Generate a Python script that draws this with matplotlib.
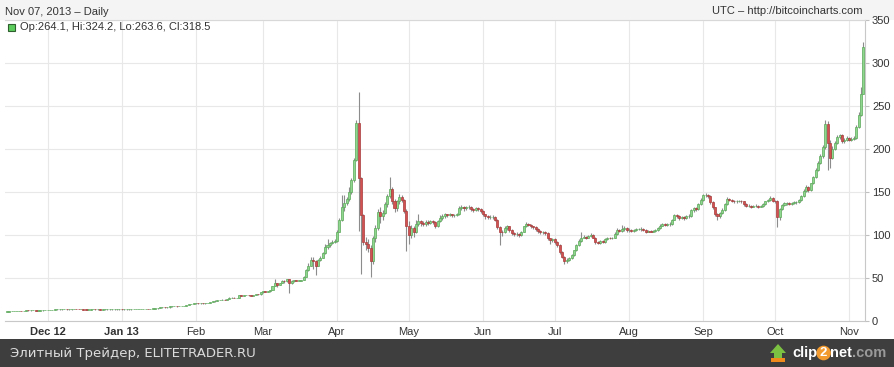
"""
plot.py
Bitcoin daily candles, Nov 2012 - Nov 2013 (bitcoincharts style)
"""

import numpy as np
import pandas as pd
import matplotlib
matplotlib.use("Agg")
import matplotlib.pyplot as plt
import matplotlib.dates as mdates
from matplotlib.patches import Rectangle, Polygon

# -------------------------------------------------
# Data (daily, from 2012-11-14)
# -------------------------------------------------

START_DATE = "2012-11-14"
FIRST_OPEN = 10.9

closes = [
    # Nov 12
    11.0, 11.2, 11.7, 11.8, 11.8, 11.8, 11.7, 11.7, 12.4, 12.3,
    12.4, 12.4, 12.2, 12.2, 12.3, 12.5, 12.6,
    # Dec 12
    12.6, 12.6, 12.6, 13.4, 13.4, 13.4, 13.5, 13.5, 13.4, 13.4,
    13.6, 13.7, 13.6, 13.5, 13.5, 13.3, 13.2, 13.3, 13.5, 13.5,
    13.4, 13.4, 13.3, 13.4, 13.4, 13.4, 13.4, 13.4, 13.4, 13.4,
    13.5,
    # Jan 13
    13.4, 13.4, 13.4, 13.4, 13.4, 13.5, 13.6, 13.8, 13.8, 14.2,
    14.3, 14.2, 14.3, 14.5, 14.6, 14.8, 15.8, 15.8, 15.7, 15.7,
    16.9, 17.4, 17.8, 17.2, 17.3, 17.5, 17.8, 18.7, 19.4, 19.8,
    20.4,
    # Feb
    20.5, 20.4, 20.6, 20.4, 20.6, 21.2, 22.0, 22.7, 23.7, 24.0,
    24.6, 25.0, 24.4, 25.5, 27.0, 27.3, 26.8, 26.9, 29.9, 29.3,
    29.8, 30.2, 29.8, 29.6, 30.4, 31.0, 30.9, 33.4,
    # Mar
    34.5, 34.3, 34.5, 36.2, 40.3, 44.2, 42.0, 44.0, 46.9, 46.0,
    48.4, 44.3, 46.9, 47.0, 46.9, 47.0, 47.4, 51.6, 59.0, 64.3,
    70.9, 69.9, 64.3, 71.5, 73.6, 78.5, 86.2, 88.9, 90.5, 92.2,
    93.0,
    # Apr
    104, 117, 132, 137, 142, 150, 164, 187, 230, 166,
    123, 92, 90, 85, 70, 96, 108, 127, 122, 126,
    136, 145, 154, 140, 131, 139, 144, 141, 128, 110,
    # May
    100, 108, 104, 113, 116, 114, 113, 115, 114, 116,
    115, 110, 116, 120, 122, 124, 123, 124, 123, 123,
    124, 131, 133, 131, 132, 133, 130, 129, 131, 130,
    128,
    # Jun
    124, 122, 121, 121, 121, 118, 109, 104, 103, 108,
    110, 106, 102, 101, 101, 100, 104, 110, 113, 112,
    110, 109, 107, 105, 103, 104, 102, 96, 94, 95,
    # Jul
    92, 88, 80, 75, 70, 71, 73, 77, 82, 88,
    93, 97, 98, 97, 99, 100, 97, 92, 91, 93,
    92, 95, 97, 96, 97, 101, 106, 105, 107, 108,
    106,
    # Aug
    106, 105, 106, 107, 107, 107, 106, 104, 105, 104,
    105, 106, 108, 111, 113, 112, 113, 113, 118, 123,
    122, 120, 121, 120, 122, 122, 129, 131, 130, 136,
    141,
    # Sep
    146, 147, 145, 138, 132, 125, 122, 126, 129, 136,
    142, 141, 140, 139, 139, 140, 139, 136, 134, 134,
    133, 134, 134, 133, 134, 136, 139, 141, 143, 140,
    # Oct
    139, 121, 130, 135, 137, 137, 136, 137, 138, 138,
    141, 145, 151, 156, 152, 160, 167, 176, 184, 192,
    202, 229, 207, 190, 200, 207, 214, 216, 209, 211,
    213,
    # Nov 13
    211, 212, 213, 226, 240, 264.1, 318.5,
]

highs = [
    # Nov 12
    11.2, 11.4, 11.9, 12.0, 11.9, 11.9, 11.9, 11.8, 12.5, 12.5,
    12.5, 12.5, 12.4, 12.3, 12.4, 12.7, 12.8,
    # Dec 12
    12.7, 12.7, 12.8, 13.5, 13.6, 13.5, 13.6, 13.6, 13.5, 13.5,
    13.7, 13.8, 13.7, 13.7, 13.6, 13.5, 13.4, 13.4, 13.6, 13.6,
    13.6, 13.5, 13.4, 13.5, 13.5, 13.5, 13.5, 13.5, 13.5, 13.5,
    13.6,
    # Jan 13
    13.6, 13.5, 13.5, 13.5, 13.5, 13.6, 13.7, 13.9, 14.0, 14.3,
    14.4, 14.4, 14.4, 14.6, 14.7, 14.9, 16.0, 16.0, 15.9, 15.9,
    17.0, 17.6, 18.0, 17.9, 17.5, 17.6, 18.0, 18.9, 19.6, 20.0,
    20.6,
    # Feb
    20.9, 20.7, 20.8, 20.7, 20.8, 21.4, 22.3, 22.9, 23.9, 24.3,
    24.9, 25.3, 25.1, 25.8, 27.4, 27.6, 27.4, 27.2, 30.4, 30.2,
    30.1, 30.6, 30.4, 30.0, 30.7, 31.3, 31.4, 33.8,
    # Mar
    34.9, 34.9, 34.8, 36.5, 40.8, 49.0, 44.3, 44.5, 47.5, 47.4,
    48.5, 48.4, 47.4, 47.5, 47.3, 47.6, 48.0, 52.0, 60.0, 68.0,
    74.9, 75.0, 70.5, 72.0, 76.0, 80.0, 90.0, 95.0, 92.0, 94.0,
    95.0,
    # Apr
    106, 120, 146, 147, 144, 156, 166, 189, 234, 266,
    168, 125, 98, 95, 88, 99, 112, 130, 132, 129,
    138, 148, 168, 156, 142, 141, 148, 147, 142, 130,
    # May
    116, 112, 110, 117, 125, 118, 116, 117, 117, 118,
    117, 116, 118, 123, 124, 126, 125, 126, 125, 125,
    126, 134, 135, 134, 134, 135, 134, 131, 133, 133,
    131,
    # Jun
    129, 125, 123, 123, 123, 122, 119, 110, 106, 110,
    112, 111, 107, 103, 103, 102, 105, 111, 115, 114,
    113, 111, 110, 108, 106, 105, 105, 103, 97, 97,
    # Jul
    96, 93, 89, 81, 76, 73, 75, 78, 83, 89,
    95, 104, 100, 99, 100, 102, 101, 98, 93, 94,
    94, 96, 98, 98, 98, 103, 108, 107, 112, 110,
    109,
    # Aug
    108, 107, 107, 108, 108, 109, 108, 107, 106, 106,
    106, 107, 109, 113, 114, 114, 114, 115, 119, 125,
    124, 123, 122, 122, 123, 124, 130, 133, 132, 137,
    143,
    # Sep
    148, 149, 148, 146, 139, 133, 126, 127, 131, 137,
    144, 143, 142, 141, 141, 141, 141, 140, 137, 136,
    135, 135, 136, 135, 135, 137, 140, 142, 145, 144,
    # Oct
    141, 141, 131, 136, 138, 138, 138, 138, 139, 139,
    142, 146, 153, 158, 157, 161, 169, 178, 186, 194,
    205, 234, 233, 210, 203, 209, 216, 218, 217, 213,
    215,
    # Nov 13
    214, 214, 215, 228, 243, 272, 324.2,
]

lows = [
    # Nov 12
    10.8, 10.9, 11.1, 11.6, 11.7, 11.7, 11.6, 11.5, 11.7, 12.2,
    12.2, 12.3, 12.1, 12.1, 12.1, 12.2, 12.4,
    # Dec 12
    12.5, 12.5, 12.5, 12.6, 13.2, 13.3, 13.3, 13.4, 13.3, 13.3,
    13.3, 13.5, 13.5, 13.4, 13.4, 13.2, 13.0, 13.1, 13.2, 13.4,
    13.3, 13.3, 13.2, 13.2, 13.3, 13.3, 13.3, 13.3, 13.3, 13.3,
    13.3,
    # Jan 13
    13.3, 13.3, 13.3, 13.3, 13.3, 13.4, 13.5, 13.5, 13.7, 13.7,
    14.1, 14.1, 14.1, 14.2, 14.4, 14.5, 14.7, 15.5, 15.5, 15.5,
    15.6, 16.8, 17.2, 16.8, 17.0, 17.2, 17.4, 17.7, 18.6, 19.2,
    19.7,
    # Feb
    20.1, 20.1, 20.3, 20.2, 20.3, 20.5, 21.1, 21.9, 22.6, 23.6,
    23.9, 24.5, 23.9, 24.3, 25.4, 26.8, 26.5, 26.5, 26.8, 28.9,
    29.0, 29.7, 29.5, 29.3, 29.5, 30.2, 30.5, 30.8,
    # Mar
    33.0, 33.5, 33.8, 34.3, 36.1, 40.2, 40.0, 41.9, 43.8, 44.5,
    45.8, 33.0, 43.5, 45.5, 46.0, 46.4, 46.6, 47.2, 51.0, 58.5,
    64.0, 60.0, 53.0, 63.5, 70.0, 73.0, 78.0, 84.0, 86.0, 89.0,
    91.0,
    # Apr
    92, 103, 116, 128, 135, 140, 148, 162, 186, 105,
    55, 88, 82, 80, 51, 66, 92, 106, 114, 118,
    124, 133, 143, 136, 127, 128, 136, 138, 126, 81,
    # May
    90, 96, 98, 102, 110, 111, 110, 111, 112, 113,
    113, 108, 109, 115, 118, 120, 121, 122, 121, 121,
    122, 123, 129, 128, 129, 130, 128, 127, 128, 128,
    126,
    # Jun
    122, 119, 119, 119, 119, 116, 107, 88, 99, 102,
    106, 104, 100, 99, 99, 98, 99, 103, 109, 110,
    108, 107, 105, 102, 101, 101, 100, 94, 90, 92,
    # Jul
    89, 86, 78, 73, 66, 68, 70, 72, 76, 81,
    87, 92, 96, 95, 96, 98, 96, 90, 89, 90,
    91, 91, 94, 95, 95, 96, 100, 103, 104, 105,
    104,
    # Aug
    104, 103, 104, 105, 106, 105, 105, 102, 103, 103,
    103, 104, 105, 107, 110, 110, 111, 111, 112, 117,
    120, 118, 119, 118, 119, 120, 121, 127, 128, 129,
    135,
    # Sep
    140, 144, 143, 136, 130, 122, 118, 120, 125, 128,
    135, 139, 138, 137, 137, 138, 137, 134, 132, 132,
    131, 132, 132, 131, 132, 133, 135, 138, 140, 138,
    # Oct
    137, 109, 118, 129, 134, 135, 135, 135, 136, 136,
    137, 140, 144, 150, 150, 151, 159, 166, 175, 183,
    190, 200, 176, 178, 188, 199, 206, 212, 207, 207,
    209,
    # Nov 13
    209, 209, 210, 212, 225, 238, 263.6,
]

month_ticks = [
    "2012-12-01", "2013-01-01", "2013-02-01", "2013-03-01",
    "2013-04-01", "2013-05-01", "2013-06-01", "2013-07-01",
    "2013-08-01", "2013-09-01", "2013-10-01", "2013-11-01",
]
month_labels = ["Dec 12", "Jan 13", "Feb", "Mar", "Apr", "May",
                "Jun", "Jul", "Aug", "Sep", "Oct", "Nov"]
bold_labels = ["Dec 12", "Jan 13"]

y_ticks = [0, 50, 100, 150, 200, 250, 300, 350]

HEADER_LEFT = "Nov 07, 2013 \u2013 Daily"
HEADER_RIGHT = "UTC \u2013 http://bitcoincharts.com"
LEGEND_TEXT = "Op:264.1, Hi:324.2, Lo:263.6, Cl:318.5"
BANNER_TEXT = "Элитный Трейдер, ELITETRADER.RU"

# -------------------------------------------------
# Prepare
# -------------------------------------------------

plt.rcParams["font.family"] = ["Liberation Sans", "DejaVu Sans"]

dates = pd.date_range(START_DATE, periods=len(closes), freq="D")
x = mdates.date2num(dates)

c = np.array(closes, dtype=float)
o = np.array([FIRST_OPEN] + closes[:-1], dtype=float)
h = np.array(highs, dtype=float)
l = np.array(lows, dtype=float)

up = c >= o
body_bottom = np.minimum(o, c)
body_height = np.maximum(np.abs(c - o), 0.3)

W, H = 895, 367


def px(xp, yp):
    return (xp / W, 1 - yp / H)


# -------------------------------------------------
# Figure
# -------------------------------------------------

fig = plt.figure(figsize=(W / 100, H / 100), dpi=100)
fig.patch.set_facecolor("white")

# header band and bottom banner
fig.add_artist(Rectangle(px(0, 20), 1, 20 / H, transform=fig.transFigure,
                         facecolor="#f4f4f4", edgecolor="none", zorder=0))
fig.add_artist(Rectangle((0, 0), 1, 28 / H, transform=fig.transFigure,
                         facecolor="#3e3e3e", edgecolor="none", zorder=0))

ax = fig.add_axes([5 / W, 1 - 321 / H, 860 / W, 301 / H])

# -------------------------------------------------
# Candles
# -------------------------------------------------

ax.vlines(x, l, h, color="#8c8c8c", linewidth=0.8, zorder=2)

ax.bar(x[up], body_height[up], bottom=body_bottom[up], width=0.85,
       color="#8fd68f", edgecolor="#5aa85a", linewidth=0.5, zorder=3)
ax.bar(x[~up], body_height[~up], bottom=body_bottom[~up], width=0.85,
       color="#d25252", edgecolor="#a83a3a", linewidth=0.5, zorder=3)

# -------------------------------------------------
# Axes styling
# -------------------------------------------------

ax.set_xlim(x[0] - 0.8, x[-1] + 0.65)
ax.set_ylim(0, 350)

ax.yaxis.tick_right()
ax.set_yticks(y_ticks)
ax.tick_params(axis="y", length=3, width=0.8, color="#c0c0c0",
               labelsize=8, labelcolor="#333333", pad=2)

ax.set_xticks(mdates.date2num(pd.to_datetime(month_ticks)))
ax.set_xticklabels(month_labels)
ax.tick_params(axis="x", length=0, labelsize=8, labelcolor="#333333", pad=4)
for lbl in ax.get_xticklabels():
    if lbl.get_text() in bold_labels:
        lbl.set_fontweight("bold")

ax.grid(True, color="#e8e8e8", linewidth=0.8)
ax.set_axisbelow(True)

ax.spines["left"].set_visible(False)
ax.spines["top"].set_color("#d8d8d8")
ax.spines["bottom"].set_color("#c8c8c8")
ax.spines["right"].set_color("#c8c8c8")
for s in ax.spines.values():
    s.set_linewidth(0.8)

# -------------------------------------------------
# Header texts and legend
# -------------------------------------------------

fig.text(*px(5, 12), HEADER_LEFT, fontsize=8, color="#333333",
         ha="left", va="center")
fig.text(*px(863, 11), HEADER_RIGHT, fontsize=8, color="#333333",
         ha="right", va="center")

fig.add_artist(Rectangle(px(8, 31), 7 / W, 7 / H, transform=fig.transFigure,
                         facecolor="#5ccc5c", edgecolor="#2f5f2f",
                         linewidth=0.8, zorder=5))
fig.text(*px(20, 27.5), LEGEND_TEXT, fontsize=8, color="#333333",
         ha="left", va="center")

# -------------------------------------------------
# Bottom banner
# -------------------------------------------------

fig.text(*px(10, 353), BANNER_TEXT, fontsize=9.5, color="#dcdcdc",
         family="DejaVu Sans", ha="left", va="center")

# clip2net logo
fig.add_artist(Polygon([px(770, 353), px(778, 344), px(786, 353),
                        px(782, 353), px(782, 358), px(774, 358),
                        px(774, 353)],
                       closed=True, transform=fig.transFigure,
                       facecolor="#7cc142", edgecolor="none", zorder=5))
fig.add_artist(Rectangle(px(771, 362), 14 / W, 4 / H,
                         transform=fig.transFigure,
                         facecolor="#f08a1c", edgecolor="none", zorder=5))

t1 = fig.text(*px(792, 353), "clip", fontsize=10.5, fontweight="bold",
              color="white", ha="left", va="center")
a2 = fig.text(0, 0, "")
a2 = plt.annotate("2", xy=(1, 0.5), xycoords=t1, xytext=(2, 0),
                  textcoords="offset points", fontsize=9.5,
                  fontweight="bold", color="white", ha="left", va="center",
                  bbox=dict(boxstyle="circle,pad=0.1", facecolor="#f29a2e",
                            edgecolor="none"),
                  annotation_clip=False)
a3 = plt.annotate("net", xy=(1, 0.5), xycoords=a2, xytext=(2, 0),
                  textcoords="offset points", fontsize=10.5,
                  fontweight="bold", color="white", ha="left", va="center",
                  annotation_clip=False)
plt.annotate(".com", xy=(1, 0.5), xycoords=a3, xytext=(0, 0),
             textcoords="offset points", fontsize=10.5, fontweight="bold",
             color="#9a9a9a", ha="left", va="center",
             annotation_clip=False)

fig.savefig("out.png", dpi=100)
plt.close(fig)
